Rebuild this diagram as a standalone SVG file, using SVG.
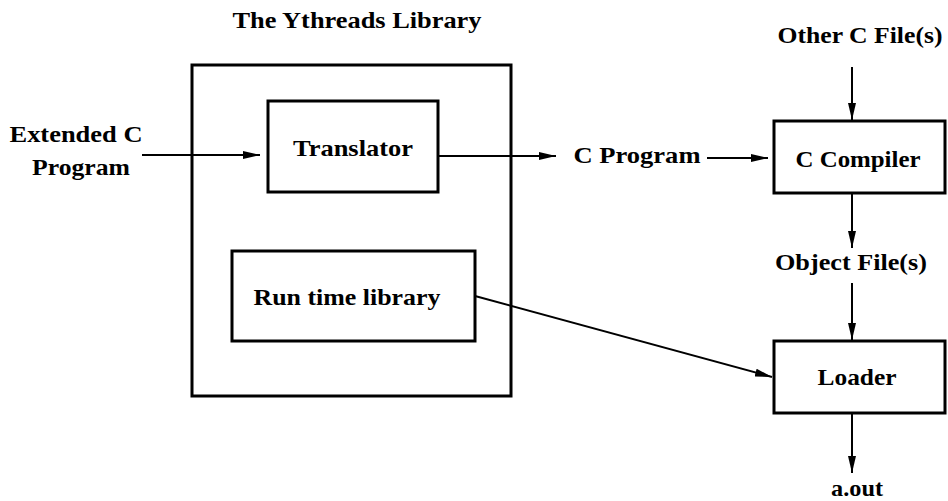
<svg xmlns="http://www.w3.org/2000/svg" width="948" height="501" viewBox="0 0 948 501">
  <style>
    .box { fill: none; stroke: #000; stroke-width: 3; }
    .lbl { font-family: "Liberation Serif", "Times New Roman", serif; font-weight: bold; font-size: 22.5px; fill: #000; text-anchor: middle; }
    .edge { fill: none; stroke: #000; stroke-width: 2; marker-end: url(#arrow); }
  </style>
  <defs>
    <marker id="arrow" viewBox="0 0 17 10" refX="17" refY="5" markerWidth="17" markerHeight="10" markerUnits="userSpaceOnUse" orient="auto">
      <path d="M0,1 L17,5 L0,9 Z" fill="#000"/>
    </marker>
  </defs>

  <rect width="948" height="501" fill="#fff"/>

  <g id="ythreads-library">
    <rect class="box" x="192" y="65" width="319" height="331"/>
    <text class="lbl" x="357" y="28" textLength="249" lengthAdjust="spacingAndGlyphs">The Ythreads Library</text>
  </g>

  <g id="translator">
    <rect class="box" x="268" y="101" width="170" height="91"/>
    <text class="lbl" x="353" y="156" textLength="120" lengthAdjust="spacingAndGlyphs">Translator</text>
  </g>

  <g id="runtime-library">
    <rect class="box" x="232" y="251" width="243" height="90"/>
    <text class="lbl" x="347" y="305" textLength="187" lengthAdjust="spacingAndGlyphs">Run time library</text>
  </g>

  <g id="extended-c">
    <text class="lbl" x="76" y="142" textLength="133" lengthAdjust="spacingAndGlyphs">Extended C</text>
    <text class="lbl" x="81" y="175" textLength="98" lengthAdjust="spacingAndGlyphs">Program</text>
  </g>

  <g id="c-program">
    <text class="lbl" x="637" y="163" textLength="127" lengthAdjust="spacingAndGlyphs">C Program</text>
  </g>

  <g id="other-c-files">
    <text class="lbl" x="860" y="43" textLength="165" lengthAdjust="spacingAndGlyphs">Other C File(s)</text>
  </g>

  <g id="c-compiler">
    <rect class="box" x="774" y="121" width="171" height="72"/>
    <text class="lbl" x="858" y="167" textLength="125" lengthAdjust="spacingAndGlyphs">C Compiler</text>
  </g>

  <g id="object-files">
    <text class="lbl" x="851" y="270" textLength="152" lengthAdjust="spacingAndGlyphs">Object File(s)</text>
  </g>

  <g id="loader">
    <rect class="box" x="774" y="341" width="171" height="72"/>
    <text class="lbl" x="857" y="385" textLength="79" lengthAdjust="spacingAndGlyphs">Loader</text>
  </g>

  <g id="a-out">
    <text class="lbl" x="857" y="496" textLength="52" lengthAdjust="spacingAndGlyphs">a.out</text>
  </g>

  <g id="connectors">
    <line class="edge" x1="142" y1="155" x2="260" y2="155"/>
    <line class="edge" x1="438" y1="156" x2="556" y2="156"/>
    <line class="edge" x1="707" y1="158" x2="768" y2="158"/>
    <line class="edge" x1="852" y1="67" x2="852" y2="120"/>
    <line class="edge" x1="852" y1="193" x2="852" y2="248"/>
    <line class="edge" x1="852" y1="283" x2="852" y2="340"/>
    <line class="edge" x1="852" y1="413" x2="852" y2="473"/>
    <line class="edge" x1="475" y1="296" x2="772" y2="377"/>
  </g>
</svg>
